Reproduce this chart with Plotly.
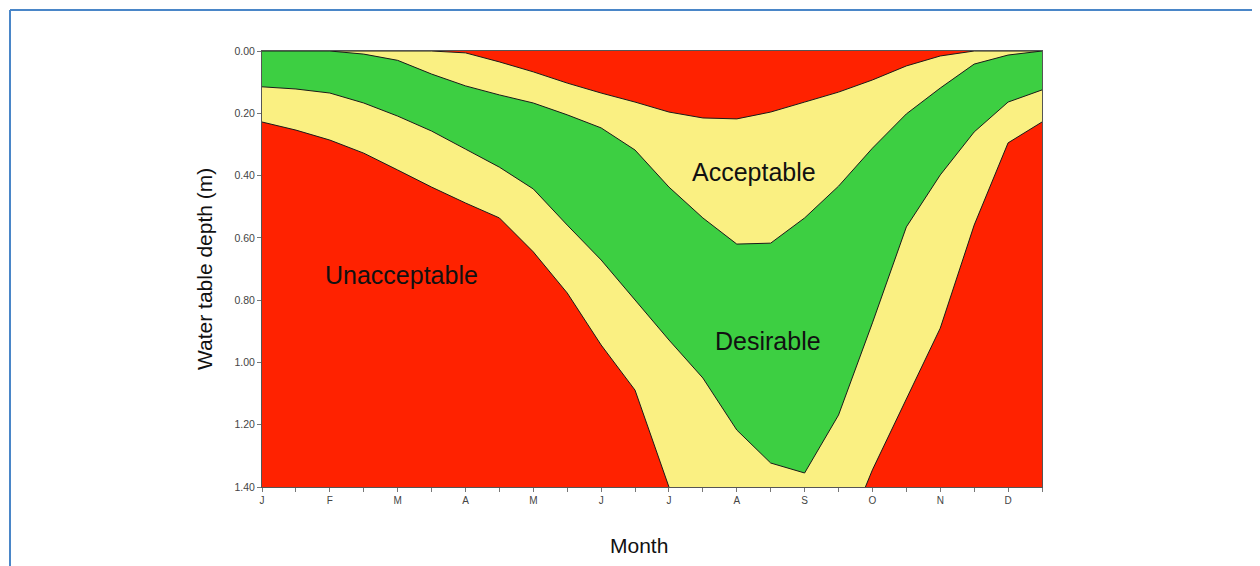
import plotly.graph_objects as go

# Half-month positions (0 = start of January)
x_pos = [0, 0.5, 1, 1.5, 2, 2.5, 3, 3.5, 4, 4.5, 5, 5.5,
         6, 6.5, 7, 7.5, 8, 8.5, 9, 9.5, 10, 10.5, 11, 11.5]

# Boundary depths (m)
wet_unacc = [0, 0, 0, 0, 0, 0, 0.006, 0.035, 0.067, 0.103, 0.135, 0.164,
             0.196, 0.215, 0.218, 0.196, 0.164, 0.132, 0.093, 0.048, 0.016, 0.0, 0, 0]
wet_desir = [0, 0, 0, 0.01, 0.03, 0.074, 0.112, 0.141, 0.167, 0.205, 0.247, 0.318,
             0.437, 0.536, 0.62, 0.617, 0.536, 0.434, 0.312, 0.202, 0.119, 0.042, 0.013, 0]
dry_desir = [0.115, 0.122, 0.135, 0.167, 0.209, 0.257, 0.315, 0.373, 0.443, 0.559, 0.671, 0.80,
             0.928, 1.05, 1.217, 1.323, 1.355, 1.169, 0.873, 0.565, 0.398, 0.26, 0.164, 0.125]
dry_unacc = [0.228, 0.254, 0.286, 0.328, 0.382, 0.437, 0.488, 0.536, 0.645, 0.777, 0.944, 1.089,
             1.40, 1.50, 1.60, 1.70, 1.70, 1.61, 1.345, 1.12, 0.89, 0.559, 0.295, 0.228]

month_ticks = [0, 1, 2, 3, 4, 5, 6, 7, 8, 9, 10, 11]
month_labels = ["J", "F", "M", "A", "M", "J", "J", "A", "S", "O", "N", "D"]
depth_ticks = [0, 0.2, 0.4, 0.6, 0.8, 1.0, 1.2, 1.4]

RED = "#FF2200"
YELLOW = "#FAF082"
GREEN = "#3DCF42"
LINE = dict(color="#1a1a1a", width=1)

fig = go.Figure()
fig.add_trace(go.Scatter(x=x_pos, y=wet_unacc, mode="lines", line=LINE, hoverinfo="skip"))
fig.add_trace(go.Scatter(x=x_pos, y=dry_unacc, mode="lines", line=LINE, fill="tonexty",
                         fillcolor=YELLOW, hoverinfo="skip"))
fig.add_trace(go.Scatter(x=x_pos, y=wet_desir, mode="lines", line=LINE, hoverinfo="skip"))
fig.add_trace(go.Scatter(x=x_pos, y=dry_desir, mode="lines", line=LINE, fill="tonexty",
                         fillcolor=GREEN, hoverinfo="skip"))

FONT = "Liberation Sans, Arial, sans-serif"

# page body has an 8px margin; figure is sized/offset to compensate
fig.update_layout(
    width=1252, height=558,
    margin=dict(l=254, r=218, t=43, b=79),
    paper_bgcolor="white",
    plot_bgcolor=RED,
    showlegend=False,
    font=dict(family=FONT, color="#333333"),
    xaxis=dict(range=[0, 11.5], tickvals=month_ticks, ticktext=month_labels,
               ticks="outside", ticklen=4, tickcolor="#777777",
               tickfont=dict(size=10, color="#444444"),
               minor=dict(tickvals=[0.5, 1.5, 2.5, 3.5, 4.5, 5.5, 6.5, 7.5, 8.5, 9.5, 10.5, 11.5],
                          ticks="outside", ticklen=4, tickcolor="#777777"),
               showgrid=False, zeroline=False, showline=True, linecolor="#555555",
               linewidth=1, mirror=True),
    yaxis=dict(range=[1.4, 0], tickvals=depth_ticks, tickformat=".2f",
               ticks="outside", ticklen=4, tickcolor="#777777",
               tickfont=dict(size=10.5, color="#444444"),
               showgrid=False, zeroline=False, showline=True, linecolor="#555555",
               linewidth=1, mirror=True),
)

annots = [
    dict(x=7.25, y=0.389, text="Acceptable", size=25),
    dict(x=2.05, y=0.72, text="Unacceptable", size=25),
    dict(x=7.46, y=0.93, text="Desirable", size=25),
]
for a in annots:
    fig.add_annotation(x=a["x"], y=a["y"], xref="x", yref="y", text=a["text"],
                       showarrow=False, font=dict(family=FONT, size=a["size"], color="#111111"))

# Axis titles
fig.add_annotation(x=(639 - 262) / 780, y=-(545 - 487) / 436, xref="paper", yref="paper",
                   text="Month", showarrow=False, xanchor="center", yanchor="middle",
                   font=dict(family=FONT, size=21, color="#111111"))
fig.add_annotation(x=(204 - 262) / 780, y=0.5, xref="paper", yref="paper",
                   text="Water table depth (m)", showarrow=False, textangle=-90,
                   xanchor="center", yanchor="middle",
                   font=dict(family=FONT, size=21, color="#111111"))

# Outer blue frame (left and top edges)
BLUE = "#4A86C8"
x_left = (10 - 262) / 780
y_top = 1 + (51 - 10) / 436
fig.add_shape(type="line", xref="paper", yref="paper", x0=x_left, x1=x_left,
              y0=y_top, y1=-(566 - 487) / 436 - 0.01, line=dict(color=BLUE, width=2))
fig.add_shape(type="line", xref="paper", yref="paper", x0=x_left, x1=(1262 - 262) / 780,
              y0=y_top, y1=y_top, line=dict(color=BLUE, width=2))

fig.write_html("out.html")
